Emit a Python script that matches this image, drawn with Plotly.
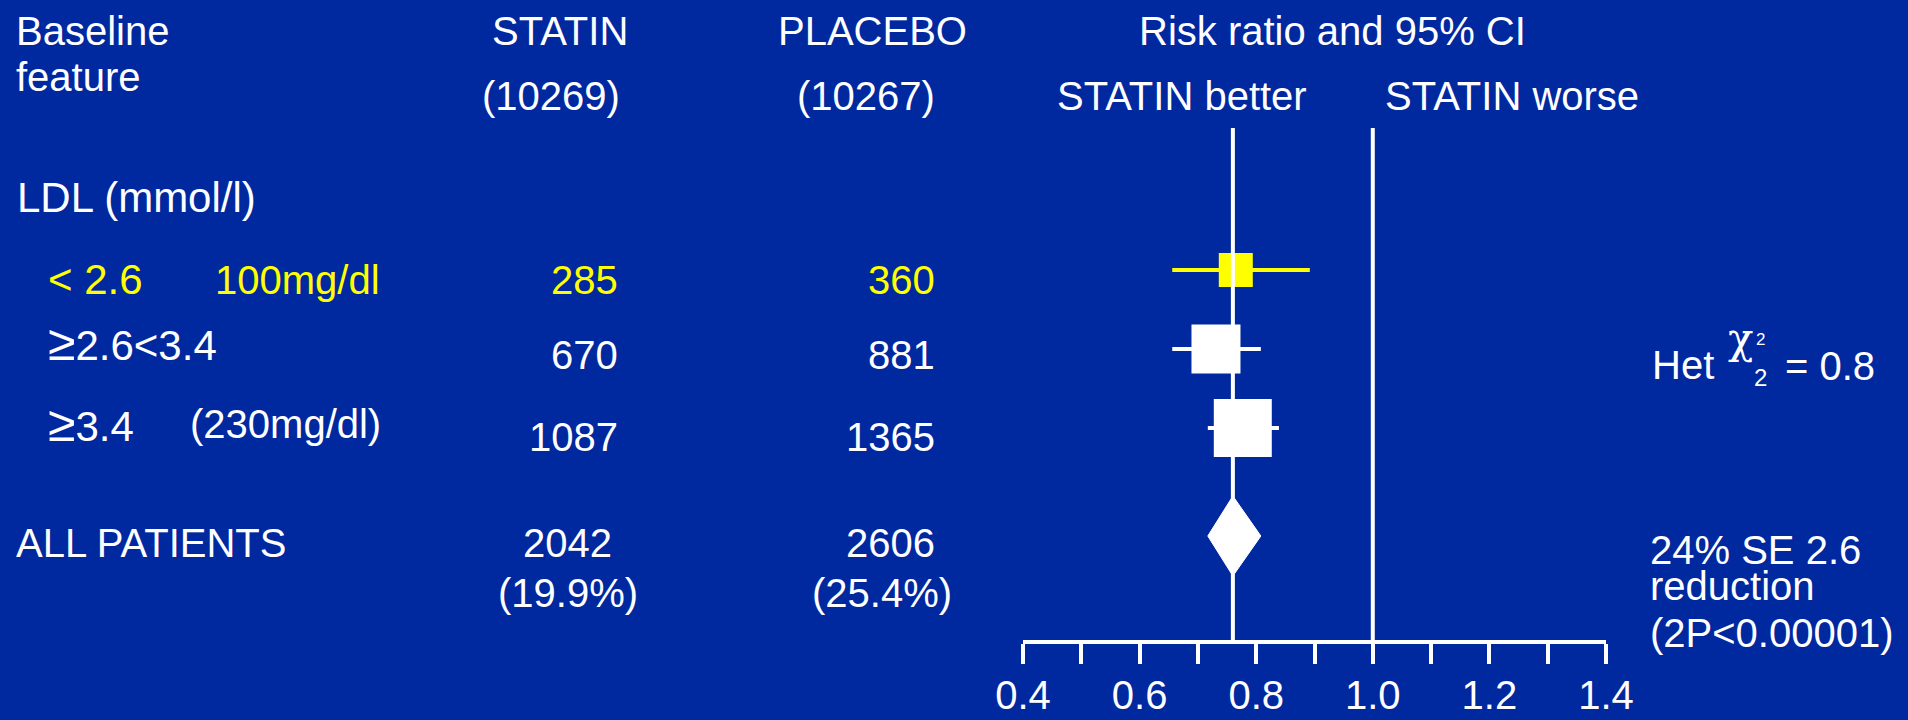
import plotly.graph_objects as go

# ---- data -------------------------------------------------------------
subgroup_labels = ["< 2.6", "\u22652.6<3.4", "\u22653.4"]
subgroup_notes = ["100mg/dl", "", "(230mg/dl)"]
statin_events = [285, 670, 1087]
placebo_events = [360, 881, 1365]
risk_ratio = [0.765, 0.731, 0.777]
ci_low = [0.656, 0.656, 0.717]
ci_high = [0.892, 0.808, 0.839]

n_statin = 10269
n_placebo = 10267
overall_events = [2042, 2606]
overall_pct = [19.9, 25.4]
overall_rr = 0.76
overall_ci = [0.717, 0.808]

reduction_pct = 24
reduction_se = 2.6
p_text = "2P<0.00001"
het_chi2 = 0.8
het_df = 2

tick_values = [0.4, 0.6, 0.8, 1.0, 1.2, 1.4]
tick_labels = ["0.4", "0.6", "0.8", "1.0", "1.2", "1.4"]

# ---- layout / style -----------------------------------------------------
W, H = 1908, 720
BG = "#00289F"
WHITE = "#FFFFFF"
YELLOW = "#FFFF00"
FONT = "Liberation Sans, Arial, sans-serif"
FS = 40
FS_ROW = 42

row_y = [270, 349, 428]          # pixel rows of the subgroups
row_text_y = [280, 343, 424]     # label rows (left column)
row_num_y = [280, 355, 437]      # number rows
row_color = [YELLOW, WHITE, WHITE]
square_size = [34, 49, 58]
overall_y = 536
diamond_half_h = 40
ref_top = 128
axis_px = (1023, 1606)
axis_bottom = 640
statin_right = 620
placebo_right = 937

fig = go.Figure()

# confidence interval lines
for i in range(len(risk_ratio)):
    fig.add_trace(go.Scatter(
        x=[ci_low[i], ci_high[i]], y=[row_y[i], row_y[i]],
        mode="lines", line=dict(color=row_color[i], width=4),
        hoverinfo="skip"))

# squares for the point estimates
for i in range(len(risk_ratio)):
    fig.add_trace(go.Scatter(
        x=[risk_ratio[i]], y=[row_y[i]], mode="markers",
        marker=dict(symbol="square", size=square_size[i],
                    color=row_color[i], line=dict(width=0)),
        hoverinfo="skip"))

# overall diamond
fig.add_trace(go.Scatter(
    x=[overall_ci[0], overall_rr, overall_ci[1], overall_rr, overall_ci[0]],
    y=[overall_y, overall_y - diamond_half_h, overall_y,
       overall_y + diamond_half_h, overall_y],
    mode="lines", fill="toself", fillcolor=WHITE,
    line=dict(color=WHITE, width=1), hoverinfo="skip"))

# reference lines: overall effect and no effect
for v in (overall_rr, 1.0):
    fig.add_trace(go.Scatter(
        x=[v, v], y=[ref_top, axis_bottom], mode="lines",
        line=dict(color=WHITE, width=4), hoverinfo="skip"))


def txt(s, px, py, anchor="left", size=FS, color=WHITE, family=FONT):
    return dict(text=s, x=px / W, y=1 - py / H, xref="paper", yref="paper",
                xanchor=anchor, yanchor="middle", showarrow=False,
                font=dict(size=size, color=color, family=family))


def big_ge(s):
    # draw the "greater or equal" sign a little larger, as a symbol glyph
    return s.replace("\u2265", "<span style='font-size:50px'>\u2265</span>")


ann = [
    txt("Baseline", 14, 31),
    txt("feature", 14, 77),
    txt("STATIN", 560, 31, "center"),
    txt(f"({n_statin})", 551, 96, "center"),
    txt("PLACEBO", 872, 31, "center"),
    txt(f"({n_placebo})", 866, 96, "center"),
    txt("Risk ratio and 95% CI", 1332, 31, "center"),
    txt("STATIN better", 1182, 96, "center"),
    txt("STATIN worse", 1512, 96, "center"),
    txt("LDL (mmol/l)", 15, 197, size=FS_ROW),
    txt("ALL PATIENTS", 14, 543),
    txt(str(overall_events[0]), 614, 543, "right"),
    txt(str(overall_events[1]), 937, 543, "right"),
    txt(f"({overall_pct[0]}%)", 568, 593, "center"),
    txt(f"({overall_pct[1]}%)", 882, 593, "center"),
    txt("Het", 1650, 365),
    txt("\u03c7", 1740, 338, "center", size=42, family="DejaVu Serif"),
    txt(str(het_df), 1760, 339, "center", size=17),
    txt(str(het_df), 1760, 377, "center", size=24),
    txt(f"= {het_chi2}", 1783, 366),
    txt(f"{reduction_pct}% SE {reduction_se}", 1648, 550),
    txt("reduction", 1648, 586),
    txt(f"({p_text})", 1648, 633),
]

note_x = [213, None, 188]
for i in range(len(subgroup_labels)):
    ann.append(txt(big_ge(subgroup_labels[i]), 46, row_text_y[i],
                   size=FS_ROW, color=row_color[i]))
    if subgroup_notes[i]:
        ann.append(txt(subgroup_notes[i], note_x[i], row_text_y[i],
                       size=FS, color=row_color[i]))
    ann.append(txt(str(statin_events[i]), statin_right, row_num_y[i], "right",
                   color=row_color[i]))
    ann.append(txt(str(placebo_events[i]), placebo_right, row_num_y[i], "right",
                   color=row_color[i]))

fig.update_layout(
    width=W, height=H,
    autosize=False,
    margin=dict(l=0, r=0, t=0, b=0, pad=0),
    paper_bgcolor=BG, plot_bgcolor=BG,
    showlegend=False,
    annotations=ann,
    xaxis=dict(
        domain=[axis_px[0] / W, axis_px[1] / W],
        range=[0.4, 1.4],
        automargin=False,
        showgrid=False, zeroline=False,
        showline=True, linecolor=WHITE, linewidth=4,
        tickmode="array", tickvals=tick_values, ticktext=tick_labels,
        ticks="outside", ticklen=20, tickwidth=4, tickcolor=WHITE,
        ticklabelstandoff=-3,
        tickfont=dict(size=FS, color=WHITE, family=FONT),
        minor=dict(dtick=0.1, tick0=0.4, ticks="outside", ticklen=20,
                   tickwidth=4, tickcolor=WHITE, showgrid=False),
        fixedrange=True,
    ),
    yaxis=dict(
        domain=[1 - axis_bottom / H, 1],
        range=[axis_bottom, 0],
        automargin=False,
        visible=False, fixedrange=True,
    ),
)

fig.write_html("out.html")
